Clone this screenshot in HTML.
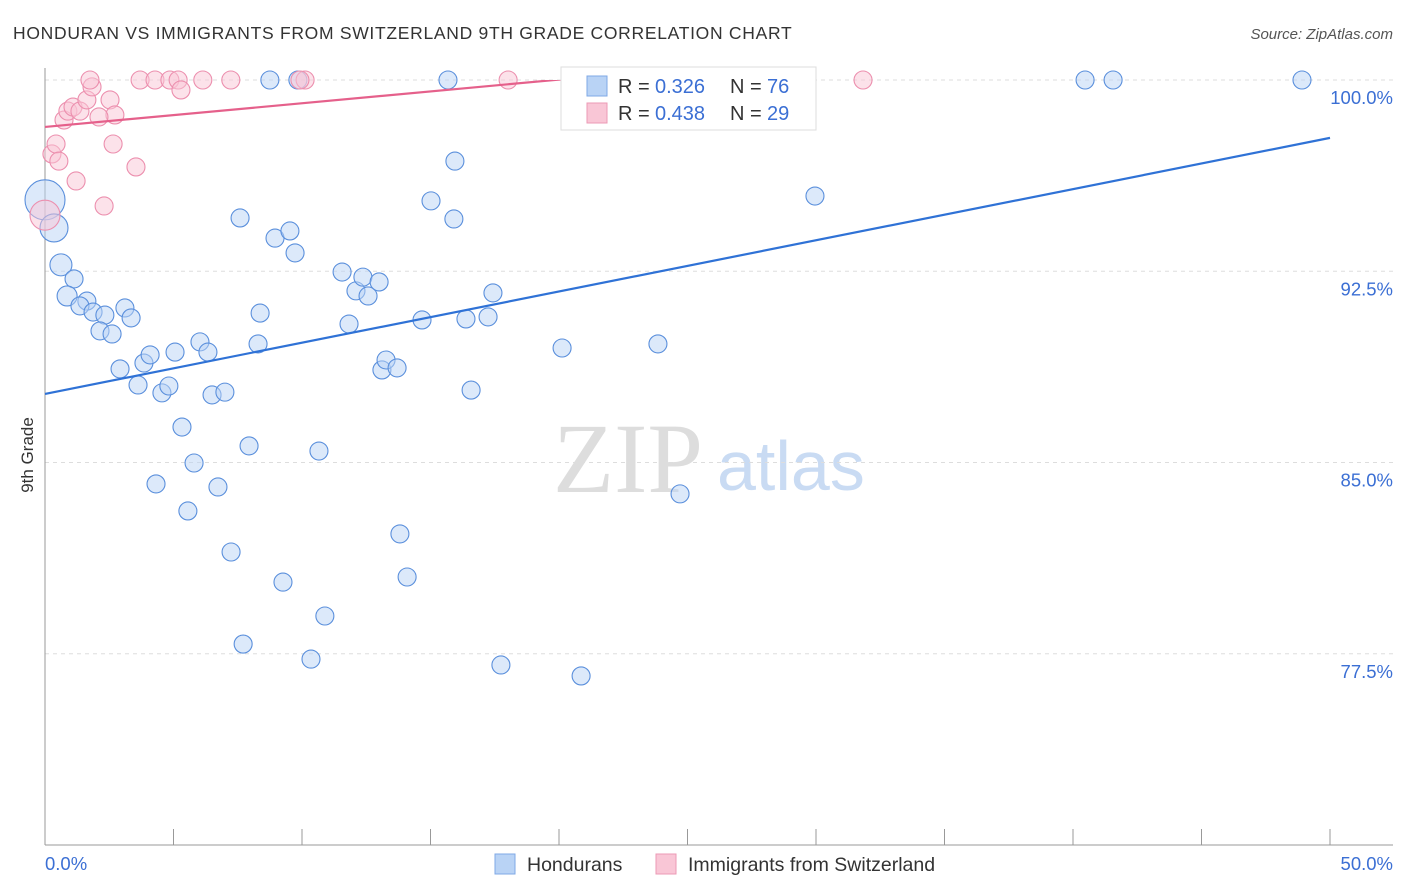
<!DOCTYPE html>
<html><head><meta charset="utf-8"><style>
body{margin:0;background:#fff;width:1406px;height:892px;overflow:hidden;font-family:"Liberation Sans",sans-serif}
svg{display:block}
</style></head><body>
<svg id="chart" width="1406" height="892" xmlns="http://www.w3.org/2000/svg">
<text x="13" y="39" font-size="17.5" letter-spacing="0.7" fill="#333">HONDURAN VS IMMIGRANTS FROM SWITZERLAND 9TH GRADE CORRELATION CHART</text>
<text x="1393" y="39" font-size="15" fill="#555" text-anchor="end" font-style="italic">Source: ZipAtlas.com</text>
<g>
<text x="553" y="492" font-size="100" font-family="Liberation Serif,serif" fill="#ddd">ZIP</text>
<text x="717" y="490" font-size="70" fill="#c9dbf3">atlas</text>
</g>
<g id="grid"></g>
<g id="marks"></g>
<text transform="translate(33,455) rotate(-90)" font-size="17" fill="#333" text-anchor="middle">9th Grade</text>
<g>
<rect x="561" y="67" width="255" height="63" fill="#fff" stroke="#ddd"/>
<rect x="587" y="76" width="20" height="20" fill="#b9d3f5" stroke="#7fa8e6"/>
<text x="618" y="93" font-size="20" fill="#333">R = <tspan x="655" fill="#3b6fd4">0.326</tspan><tspan x="730">N = </tspan><tspan x="767" fill="#3b6fd4">76</tspan></text>
<rect x="587" y="103" width="20" height="20" fill="#f9c6d6" stroke="#ec9ab5"/>
<text x="618" y="120" font-size="20" fill="#333">R = <tspan x="655" fill="#3b6fd4">0.438</tspan><tspan x="730">N = </tspan><tspan x="767" fill="#3b6fd4">29</tspan></text>
</g>
<g>
<rect x="495" y="854" width="20" height="20" fill="#b9d3f5" stroke="#7fa8e6"/>
<text x="527" y="871" font-size="19.5" fill="#333">Hondurans</text>
<rect x="656" y="854" width="20" height="20" fill="#f9c6d6" stroke="#ec9ab5"/>
<text x="688" y="871" font-size="19.5" fill="#333">Immigrants from Switzerland</text>
</g>
</svg>
<script>
const yTicks=[100,92.5,85,77.5];
const yTickLabels=["100.0%","92.5%","85.0%","77.5%"];
const xTicks=[0,5,10,15,20,25,30,35,40,45,50];
const xEndLabels=["0.0%","50.0%"];
const blueX=[0,0.35,0.62,1.13,0.86,1.63,1.36,1.87,2.33,3.11,3.35,2.14,2.61,2.92,3.85,4.09,3.62,4.55,4.82,5.06,6.03,6.34,5.33,5.8,4.32,5.56,6.73,6.5,7.0,7.24,7.94,8.29,8.37,7.59,8.95,9.53,9.73,8.75,9.84,9.26,7.71,10.35,10.66,10.89,11.56,12.1,12.37,12.57,13.0,11.83,13.11,13.27,13.7,13.81,14.09,14.67,15.02,15.68,15.91,15.95,16.38,16.58,17.24,17.43,17.74,20.12,20.86,23.85,24.71,25.02,28.25,29.96,40.47,41.56,48.91,24.9];
const blueY=[95.3,94.2,92.75,92.2,91.53,91.33,91.14,90.9,90.78,91.06,90.67,90.16,90.04,88.67,88.9,89.22,88.04,87.73,88.0,89.33,89.73,89.33,86.39,84.98,84.16,83.1,84.04,87.65,87.76,81.49,85.65,89.65,90.86,94.59,93.8,94.08,93.22,100,100,80.31,77.88,77.29,85.45,78.98,92.47,91.73,92.27,91.53,92.08,90.43,88.63,89.02,88.71,82.2,80.51,90.59,95.26,100,94.55,96.82,90.63,87.84,90.71,91.65,77.06,89.49,76.63,89.65,83.77,100,100,95.45,100,100,100,100];
const blueR=[20,14,11,9,10,9,9,9,9,9,9,9,9,9,9,9,9,9,9,9,9,9,9,9,9,9,9,9,9,9,9,9,9,9,9,9,9,9,9,9,9,9,9,9,9,9,9,9,9,9,9,9,9,9,9,9,9,9,9,9,9,9,9,9,9,9,9,9,9,9,9,9,9,9,9,9];
const pinkX=[0,0.27,0.43,0.54,1.21,0.74,0.89,1.09,1.36,1.63,1.83,1.75,2.53,2.72,2.1,2.65,2.3,3.54,3.7,4.28,4.86,5.18,5.29,6.14,7.23,10.12,18.02,31.83,9.92];
const pinkY=[94.7,97.1,97.49,96.82,96.04,98.43,98.78,98.94,98.78,99.22,99.73,100,99.22,98.63,98.55,97.49,95.06,96.59,100,100,100,100,99.61,100,100,100,100,100,100];
const pinkR=[15,9,9,9,9,9,9,9,9,9,9,9,9,9,9,9,9,9,9,9,9,9,9,9,9,9,9,9,9];
const blueTrend=[87.69,97.73];
const pinkTrend=[98.16,102.8];
const NS="http://www.w3.org/2000/svg";
const X=v=>45+v*25.7, Y=v=>80+(100-v)*25.5;
function mk(tag,attrs,parent){const e=document.createElementNS(NS,tag);for(const k in attrs)e.setAttribute(k,attrs[k]);parent.appendChild(e);return e;}
const grid=document.getElementById('grid'), marks=document.getElementById('marks'), svg=document.getElementById('chart');
yTicks.forEach((t,i)=>{
  const l=mk('line',{x1:45,x2:1393,y1:Y(t),y2:Y(t),stroke:'#ddd','stroke-dasharray':'4,4'},grid);
  
  
  const tx=mk('text',{x:1393,y:Y(t)+24,'font-size':18.5,fill:'#3b6fd4','text-anchor':'end'},grid);
  tx.textContent=yTickLabels[i];
  
  
});
const ax=mk('line',{x1:45,x2:45,y1:68,y2:845,stroke:'#999'},grid);


const bx=mk('line',{x1:45,x2:1393,y1:845,y2:845,stroke:'#999'},grid);


xTicks.forEach(t=>{
  const l=mk('line',{x1:X(t),x2:X(t),y1:829,y2:845,stroke:'#999'},grid);
  
  
});
[[0,'start'],[50,'end']].forEach((p,i)=>{
  const tx=mk('text',{x:i?1393:45,y:870,'font-size':18.5,fill:'#3b6fd4','text-anchor':p[1]},grid);
  tx.textContent=xEndLabels[i];
  
  
});
function dots(xs,ys,rs,fill,stroke,name){
  xs.forEach((x,i)=>{
    const c=mk('circle',{cx:X(x),cy:Y(ys[i]),r:rs[i],fill:fill,'fill-opacity':0.5,stroke:stroke,'stroke-width':1.1},marks);
    
    
  });
}
dots(blueX,blueY,blueR,'#b9d3f5','#5a8fdc','honduran-point');
dots(pinkX,pinkY,pinkR,'#f9c6d6','#ec8fae','switzerland-point');
const cp=mk('clipPath',{id:'plotclip'},svg);
mk('rect',{x:45,y:Y(100),width:1348,height:845-Y(100)},cp);
const bl=mk('line',{x1:X(0),y1:Y(blueTrend[0]),x2:X(50),y2:Y(blueTrend[1]),stroke:'#2f72d6','stroke-width':2.2},marks);


const pl=mk('line',{x1:X(0),y1:Y(pinkTrend[0]),x2:X(50),y2:Y(pinkTrend[1]),stroke:'#e5608b','stroke-width':2.2,'clip-path':'url(#plotclip)'},marks);


</script>
</body></html>
